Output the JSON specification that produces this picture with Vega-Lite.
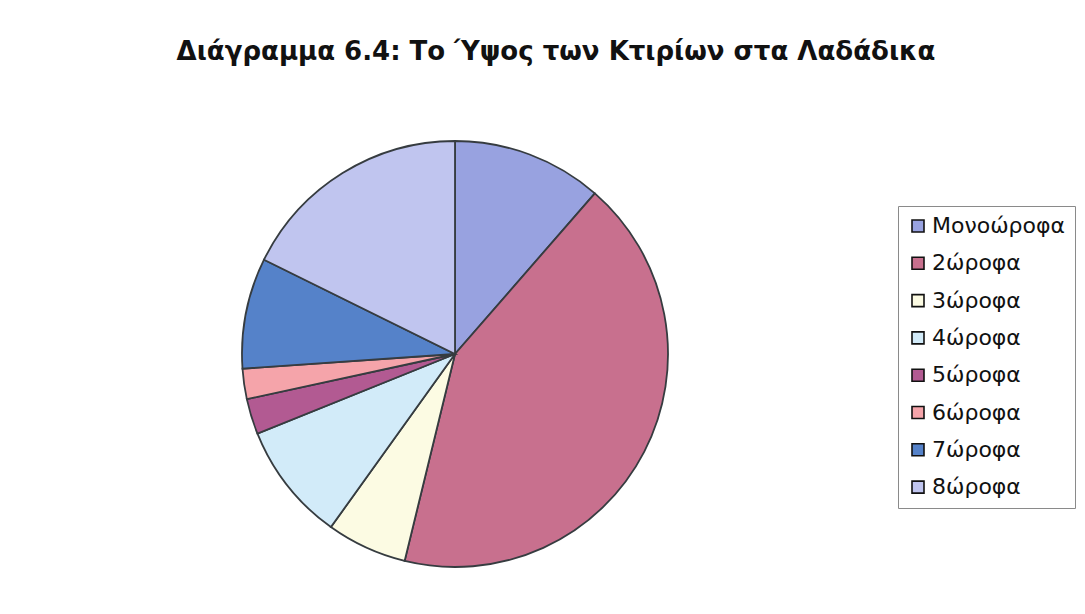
{
  "$schema": "https://vega.github.io/schema/vega-lite/v6.json",
  "autosize": "none",
  "width": 428,
  "height": 426,
  "padding": {"left": 241, "top": 141, "right": 416, "bottom": 47},
  "background": "white",
  "config": {"view": {"stroke": null}, "font": "DejaVu Sans"},
  "title": {
    "text": "Διάγραμμα 6.4: Το Ύψος των Κτιρίων στα Λαδάδικα",
    "font": "DejaVu Sans",
    "fontSize": 26,
    "fontWeight": "bold",
    "color": "#111111",
    "anchor": "middle",
    "dx": 101,
    "offset": 72
  },
  "data": {
    "values": [
      {"i": 1, "cat": "Μονοώροφα", "pct": 11.4},
      {"i": 2, "cat": "2ώροφα", "pct": 42.4},
      {"i": 3, "cat": "3ώροφα", "pct": 6.1},
      {"i": 4, "cat": "4ώροφα", "pct": 9.0},
      {"i": 5, "cat": "5ώροφα", "pct": 2.7},
      {"i": 6, "cat": "6ώροφα", "pct": 2.3},
      {"i": 7, "cat": "7ώροφα", "pct": 8.4},
      {"i": 8, "cat": "8ώροφα", "pct": 17.7}
    ]
  },
  "mark": {"type": "arc", "outerRadius": 213, "stroke": "#363c40", "strokeWidth": 1.8},
  "encoding": {
    "theta": {"field": "pct", "type": "quantitative", "stack": true},
    "order": {"field": "i", "type": "quantitative"},
    "color": {
      "field": "cat",
      "type": "nominal",
      "scale": {
        "domain": ["Μονοώροφα", "2ώροφα", "3ώροφα", "4ώροφα", "5ώροφα", "6ώροφα", "7ώροφα", "8ώροφα"],
        "range": ["#98a2e0", "#c8708e", "#fcfbe3", "#d2ebf9", "#b25a92", "#f5a4aa", "#5582c9", "#c0c5ef"]
      },
      "legend": {
        "title": null,
        "orient": "none",
        "legendX": 657,
        "legendY": 65,
        "symbolType": "square",
        "symbolSize": 144,
        "symbolStrokeColor": "#111111",
        "symbolStrokeWidth": 1.6,
        "symbolOpacity": 1,
        "labelFont": "DejaVu Sans",
        "labelFontSize": 22,
        "labelColor": "#111111",
        "labelLimit": 300,
        "labelOffset": 3,
        "rowPadding": 15.3,
        "padding": 9,
        "strokeColor": "#8a8a8a",
        "fillColor": "white"
      }
    }
  }
}
